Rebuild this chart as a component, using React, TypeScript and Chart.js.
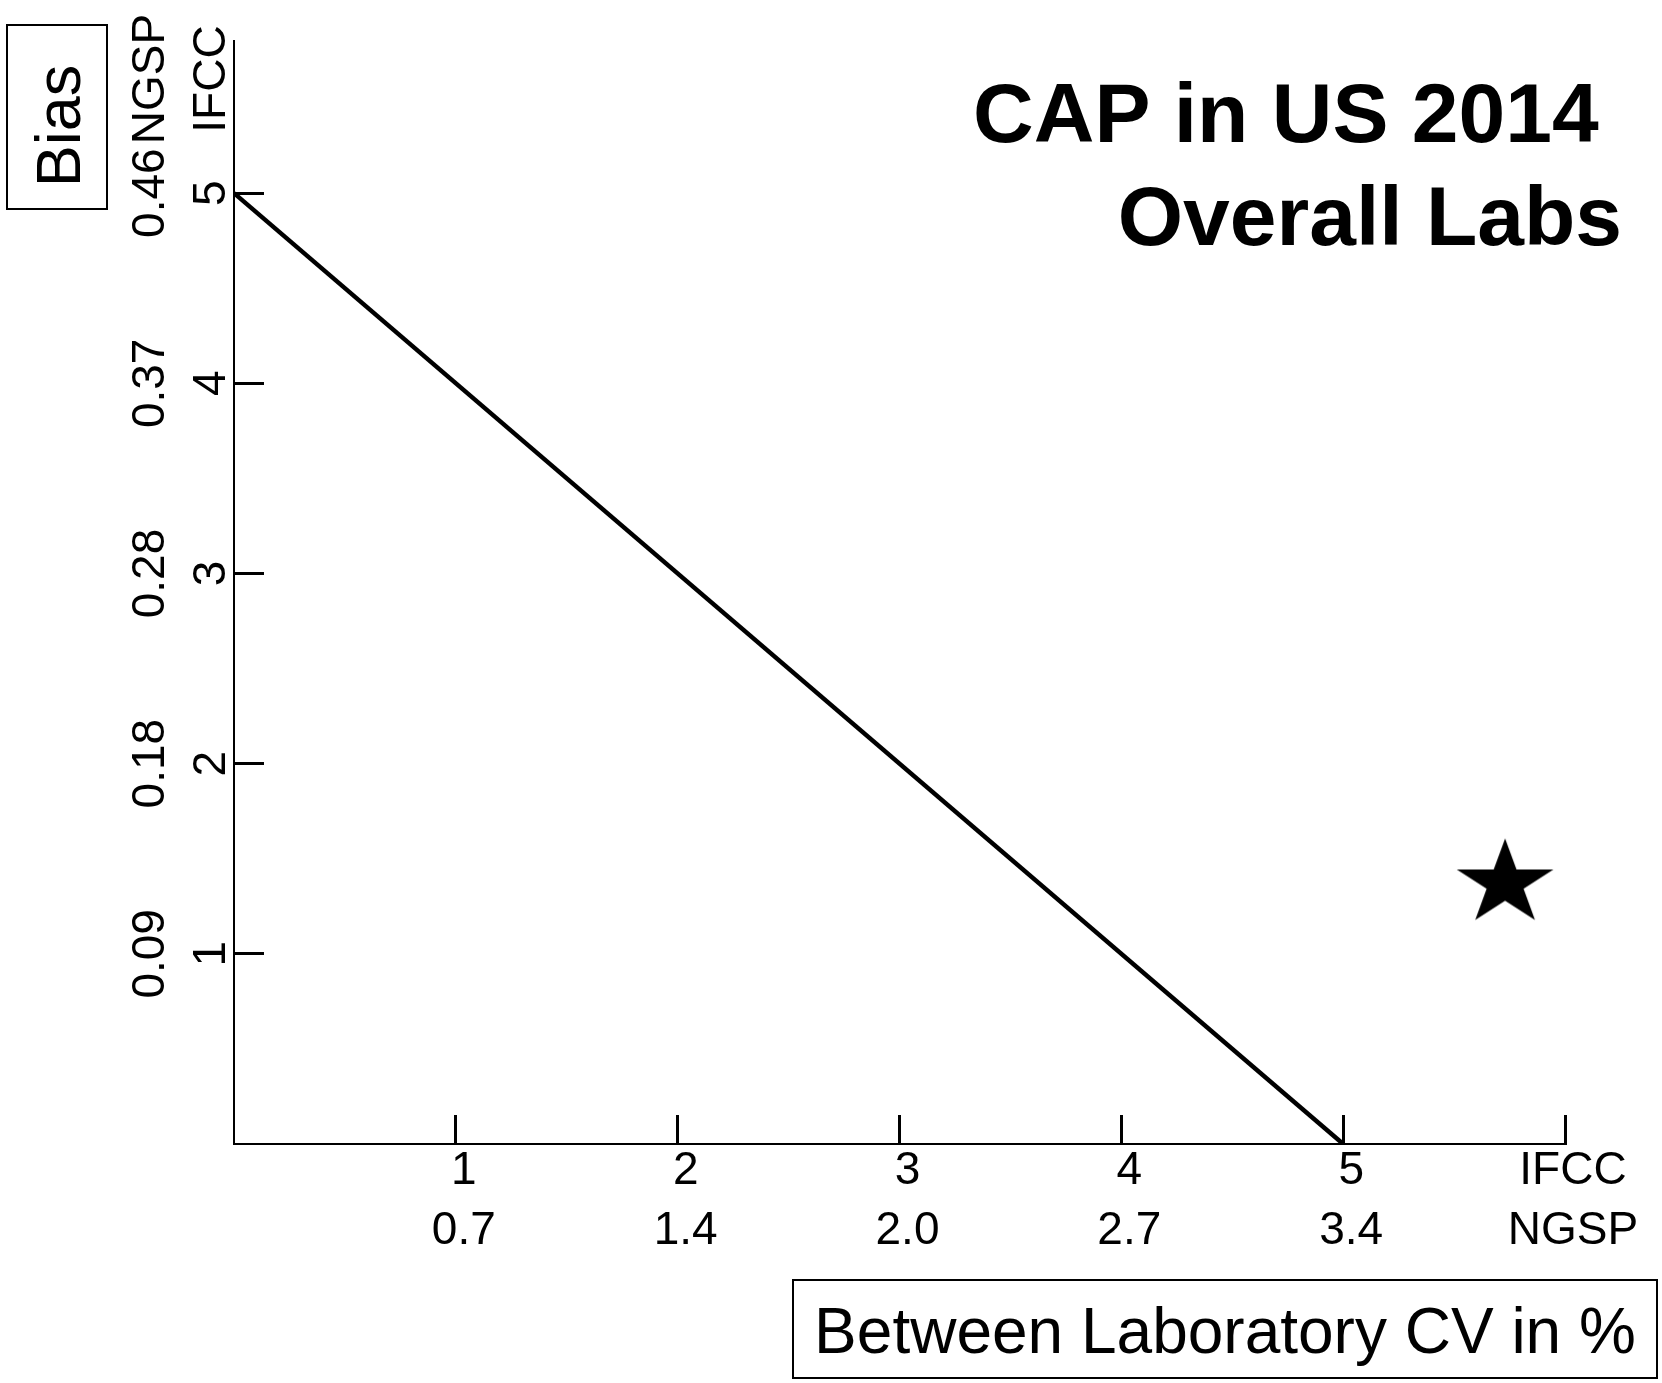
import React, { useEffect, useRef } from 'react';
import { Chart, registerables } from 'chart.js';

Chart.register(...registerables);

// ---------- data ----------
const titleLines = ['CAP in US 2014 ', 'Overall Labs'];
const xAxisTitle = 'Between Laboratory CV in %';
const yAxisTitle = 'Bias';

const xTickValues = [1, 2, 3, 4, 5, 6];
const xTickIFCC = ['1', '2', '3', '4', '5', 'IFCC'];
const xTickNGSP = ['0.7', '1.4', '2.0', '2.7', '3.4', 'NGSP'];

const yTickValues = [1, 2, 3, 4, 5];
const yTickIFCC = ['1', '2', '3', '4', '5'];
const yTickNGSP = ['0.09', '0.18', '0.28', '0.37', '0.46'];
const yUnitValue = 5.6;
const yUnitIFCC = 'IFCC';
const yUnitNGSP = 'NGSP';

const xMin = 0;
const xMax = 6;
const yMin = 0;
const yMax = 5.8;

// limit line (bias + CV boundary)
const limitX = [0, 5];
const limitY = [5, 0];

// CAP 2014 overall labs result
const capX = [5.73];
const capY = [1.37];

const FONT = "'Liberation Sans', Arial, Helvetica, sans-serif";
const TICK_SIZE = 46;

function makeStar(): HTMLCanvasElement {
  const R = 45;
  const sx = 1.13;
  const c = document.createElement('canvas');
  const w = 2 * Math.ceil(R * sx) + 4;
  const h = 2 * R + 4;
  c.width = w;
  c.height = h;
  const g = c.getContext('2d')!;
  const cx = w / 2;
  const cy = h / 2;
  g.beginPath();
  for (let k = 0; k < 10; k++) {
    const a = -Math.PI / 2 + (k * Math.PI) / 5;
    const r = k % 2 === 0 ? R : R * 0.382;
    const px = cx + r * Math.cos(a) * sx;
    const py = cy + r * Math.sin(a);
    if (k === 0) g.moveTo(px, py);
    else g.lineTo(px, py);
  }
  g.closePath();
  g.fillStyle = '#000';
  g.fill();
  return c;
}

const yLabelsPlugin = {
  id: 'yRotatedLabels',
  afterDraw(chart: any) {
    const ctx = chart.ctx as CanvasRenderingContext2D;
    const ys = chart.scales.y;
    const axisX = chart.chartArea.left;
    ctx.save();
    ctx.fillStyle = '#000';
    ctx.font = `${TICK_SIZE}px ${FONT}`;
    ctx.textAlign = 'center';
    ctx.textBaseline = 'alphabetic';
    const draw = (txt: string, bx: number, py: number) => {
      ctx.save();
      ctx.translate(bx, py);
      ctx.rotate(-Math.PI / 2);
      ctx.fillText(txt, 0, 0);
      ctx.restore();
    };
    yTickValues.forEach((v, i) => {
      const py = ys.getPixelForValue(v);
      draw(yTickIFCC[i], axisX - 9, py);
      draw(yTickNGSP[i], axisX - 70, py);
    });
    const pu = ys.getPixelForValue(yUnitValue);
    draw(yUnitIFCC, axisX - 9, pu);
    draw(yUnitNGSP, axisX - 70, pu);
    ctx.restore();
  },
};

const boxedTitlesPlugin = {
  id: 'boxedTitles',
  afterDraw(chart: any) {
    const ctx = chart.ctx as CanvasRenderingContext2D;
    ctx.save();
    ctx.strokeStyle = '#000';
    ctx.fillStyle = '#000';
    ctx.lineWidth = 2;
    // y axis title box
    ctx.strokeRect(7, 25, 100, 184);
    ctx.save();
    ctx.font = `63px ${FONT}`;
    ctx.translate(80, 126);
    ctx.rotate(-Math.PI / 2);
    ctx.textAlign = 'center';
    ctx.textBaseline = 'alphabetic';
    ctx.fillText(yAxisTitle, 0, 0);
    ctx.restore();
    // x axis title box
    ctx.strokeRect(793, 1280, 864, 98);
    ctx.font = `64px ${FONT}`;
    ctx.textAlign = 'center';
    ctx.textBaseline = 'alphabetic';
    ctx.fillText(xAxisTitle, 1225, 1353);
    ctx.restore();
  },
};

export default function App() {
  const ref = useRef<HTMLCanvasElement>(null);

  useEffect(() => {
    const canvas = ref.current;
    if (!canvas) return;
    const star = makeStar();
    const titleLH = 103;
    const titlePadTop = 67.4;
    const chart = new Chart(canvas, {
      type: 'scatter',
      data: {
        datasets: [
          {
            label: 'limit',
            data: limitX.map((x, i) => ({ x, y: limitY[i] })),
            showLine: true,
            borderColor: '#000',
            borderWidth: 4.5,
            pointRadius: 0,
            pointHoverRadius: 0,
            fill: false,
          } as any,
          {
            label: 'CAP in US 2014',
            data: capX.map((x, i) => ({ x, y: capY[i] })),
            showLine: false,
            pointStyle: star,
            pointRadius: 10,
            backgroundColor: '#000',
            borderColor: '#000',
          } as any,
        ],
      },
      options: {
        responsive: false,
        animation: false,
        events: [],
        layout: { padding: { left: 0, top: 0, right: 40, bottom: 0 } },
        plugins: {
          legend: { display: false },
          tooltip: { enabled: false },
          title: {
            display: true,
            text: titleLines,
            align: 'end',
            color: '#000',
            font: { family: FONT, size: 84, weight: 'bold', lineHeight: titleLH / 84 },
            padding: { top: titlePadTop, bottom: 41 - 2 * titleLH - titlePadTop },
          },
        },
        scales: {
          x: {
            type: 'linear',
            position: 'bottom',
            min: xMin,
            max: xMax,
            afterBuildTicks: (s: any) => {
              s.ticks = xTickValues.map((v) => ({ value: v }));
            },
            afterFit: (s: any) => {
              s.height = 239;
            },
            grid: {
              display: true,
              drawOnChartArea: false,
              drawTicks: true,
              tickLength: -29,
              tickWidth: 3,
              tickColor: '#000',
              color: '#000',
            },
            border: { display: true, color: '#000', width: 2 },
            ticks: {
              autoSkip: false,
              maxRotation: 0,
              minRotation: 0,
              padding: 26,
              labelOffset: 8,
              color: '#000',
              font: { family: FONT, size: TICK_SIZE, lineHeight: 60 / TICK_SIZE },
              callback: (v: any) => {
                const i = xTickValues.indexOf(Number(v));
                return i < 0 ? '' : [xTickIFCC[i], xTickNGSP[i]];
              },
            },
          },
          y: {
            type: 'linear',
            position: 'left',
            min: yMin,
            max: yMax,
            afterBuildTicks: (s: any) => {
              s.ticks = yTickValues.map((v) => ({ value: v }));
            },
            afterFit: (s: any) => {
              s.width = 234;
            },
            grid: {
              display: true,
              drawOnChartArea: false,
              drawTicks: true,
              tickLength: -30,
              tickWidth: 3,
              tickColor: '#000',
              color: '#000',
            },
            border: { display: true, color: '#000', width: 2 },
            ticks: { display: false },
          },
          y2: {
            type: 'linear',
            position: 'right',
            display: true,
            grid: { display: false, drawTicks: false },
            border: { display: false },
            ticks: { display: false },
            afterFit: (s: any) => {
              s.width = 57;
            },
          },
        },
      } as any,
      plugins: [yLabelsPlugin, boxedTitlesPlugin],
    });
    return () => chart.destroy();
  }, []);

  return (
    <div style={{ position: 'absolute', left: 0, top: 0, width: 1662, height: 1383, background: '#fff' }}>
      <canvas ref={ref} width={1662} height={1383} style={{ display: 'block', width: 1662, height: 1383 }} />
    </div>
  );
}
